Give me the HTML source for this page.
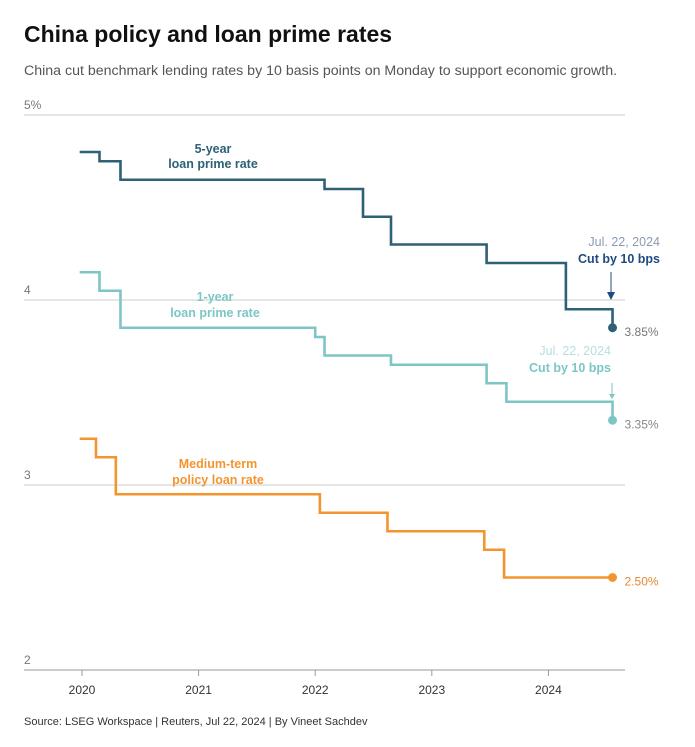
<!DOCTYPE html>
<html><head><meta charset="utf-8"><style>
body{margin:0;background:#fff;font-family:"Liberation Sans",sans-serif;}
svg text{font-family:"Liberation Sans",sans-serif;}
</style></head><body>
<svg id="chart" width="695" height="742" xmlns="http://www.w3.org/2000/svg">
<text x="24" y="42" font-size="23" font-weight="bold" fill="#111">China policy and loan prime rates</text>
<text x="24" y="75" font-size="14.2" fill="#555">China cut benchmark lending rates by 10 basis points on Monday to support economic growth.</text>
<g id="grid"></g><g id="xaxis"></g><g id="lines"></g>
<text x="213" y="153" font-size="12.5" font-weight="bold" fill="#2e6176" text-anchor="middle">5-year</text>
<text x="213" y="168" font-size="12.5" font-weight="bold" fill="#2e6176" text-anchor="middle">loan prime rate</text>
<text x="215" y="301" font-size="12.5" font-weight="bold" fill="#7cc6c6" text-anchor="middle">1-year</text>
<text x="215" y="317" font-size="12.5" font-weight="bold" fill="#7cc6c6" text-anchor="middle">loan prime rate</text>
<text x="218" y="468" font-size="12.5" font-weight="bold" fill="#f3952e" text-anchor="middle">Medium-term</text>
<text x="218" y="484" font-size="12.5" font-weight="bold" fill="#f3952e" text-anchor="middle">policy loan rate</text>
<text x="660" y="246" font-size="12.5" fill="#8a9bb0" text-anchor="end">Jul. 22, 2024</text>
<text x="660" y="263" font-size="12.5" font-weight="bold" fill="#1f4b80" text-anchor="end">Cut by 10 bps</text>
<line x1="611" y1="272" x2="611" y2="296" stroke="#1f4b80" stroke-width="1"/>
<polygon points="607,292 615,292 611,300" fill="#1f4b80"/>
<text x="611" y="355" font-size="12.5" fill="#b7dede" text-anchor="end">Jul. 22, 2024</text>
<text x="611" y="372" font-size="12.5" font-weight="bold" fill="#7cc6c6" text-anchor="end">Cut by 10 bps</text>
<line x1="612" y1="383" x2="612" y2="397" stroke="#7cc6c6" stroke-width="1"/>
<polygon points="609,394 615,394 612,399" fill="#7cc6c6"/>
<text x="24" y="725" font-size="11" fill="#333">Source: LSEG Workspace | Reuters, Jul 22, 2024 | By Vineet Sachdev</text>
</svg>
<script>
const yTicks=[5,4,3,2];
const yTickLabels=["5%","4","3","2"];
const xTicks=[2020,2021,2022,2023,2024];
const lpr5Dates=[2019.98,2020.15,2020.33,2022.08,2022.41,2022.65,2023.47,2024.15,2024.55];
const lpr5Vals=[4.80,4.75,4.65,4.60,4.45,4.30,4.20,3.95,3.85];
const lpr1Dates=[2019.98,2020.15,2020.33,2022.0,2022.08,2022.65,2023.47,2023.64,2024.55];
const lpr1Vals=[4.15,4.05,3.85,3.80,3.70,3.65,3.55,3.45,3.35];
const mlfDates=[2019.98,2020.12,2020.29,2022.04,2022.62,2023.45,2023.62,2024.55];
const mlfVals=[3.25,3.15,2.95,2.85,2.75,2.65,2.50,2.50];
const endLabels=["3.85%","3.35%","2.50%"];
const NS="http://www.w3.org/2000/svg";
function yS(v){return 115+(5-v)*185;}
function xS(t){return 82+(t-2020)*116.6;}
function mk(tag,attrs,parent){const e=document.createElementNS(NS,tag);for(const k in attrs)e.setAttribute(k,attrs[k]);document.getElementById(parent).appendChild(e);return e;}
yTicks.forEach((v,i)=>{
 const l=mk('line',{x1:24,x2:625,y1:yS(v),y2:yS(v),stroke:v===2?'#999':'#ccc','stroke-width':1},'grid');
 
 
 const t=mk('text',{x:24,y:yS(v)-6,'font-size':12,fill:'#777'},'grid');t.textContent=yTickLabels[i];
 
 
});
xTicks.forEach(v=>{
 mk('line',{x1:xS(v),x2:xS(v),y1:670,y2:676,stroke:'#999'},'xaxis');
 const t=mk('text',{x:xS(v),y:694,'font-size':12,fill:'#333','text-anchor':'middle'},'xaxis');t.textContent=v;
 
 
});
function step(dates,vals,color,name,li,labColor){
 let d='M'+xS(dates[0])+' '+yS(vals[0]);
 for(let i=1;i<dates.length;i++){d+=' H'+xS(dates[i])+' V'+yS(vals[i]);}
 const p=mk('path',{d:d,fill:'none',stroke:color,'stroke-width':2.6},'lines');
 
 
 const n=dates.length-1;
 const c=mk('circle',{cx:xS(dates[n]),cy:yS(vals[n]),r:4.5,fill:color},'lines');
 
 
 const t=mk('text',{x:xS(dates[n])+12,y:yS(vals[n])+8,'font-size':12,fill:labColor},'lines');t.textContent=endLabels[li];
 
 
}
step(lpr5Dates,lpr5Vals,'#2e6176','lpr-5y',0,'#777');
step(lpr1Dates,lpr1Vals,'#7cc6c6','lpr-1y',1,'#888');
step(mlfDates,mlfVals,'#f3952e','mlf',2,'#e08a30');
</script>
</body></html>
